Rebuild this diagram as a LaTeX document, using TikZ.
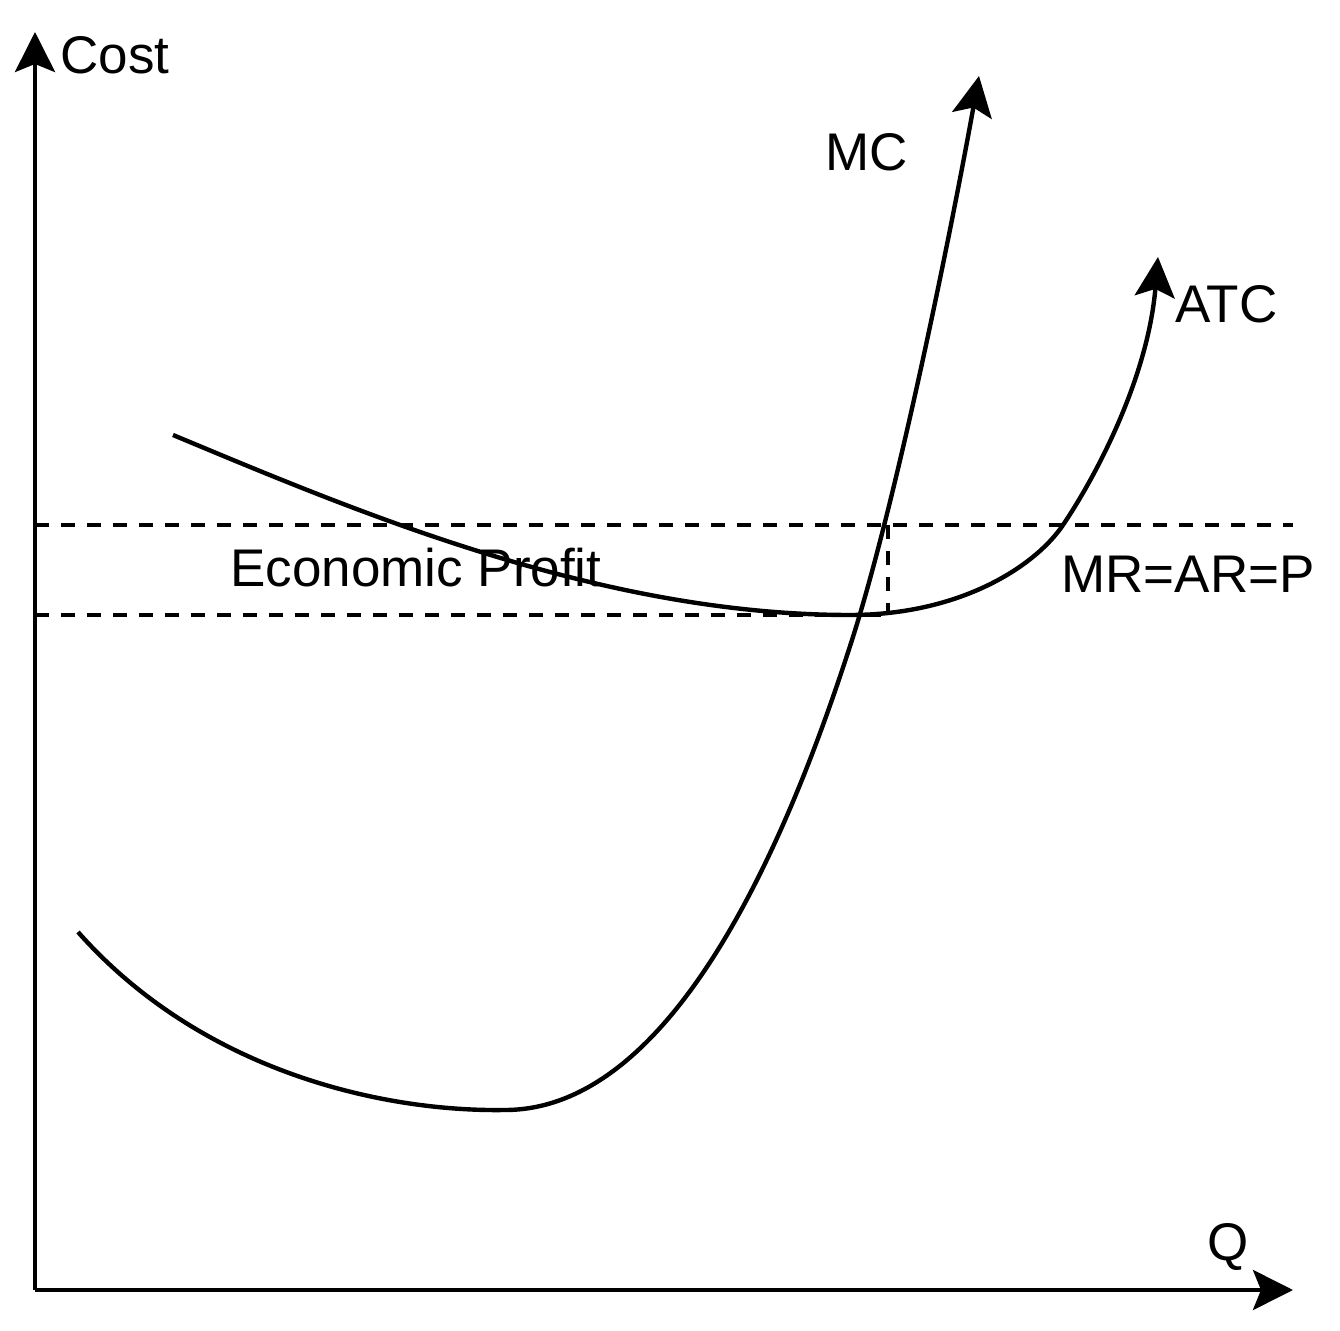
\documentclass[tikz,border=0pt]{standalone}
\usepackage{fontspec}
\setmainfont{Liberation Sans}
\usetikzlibrary{arrows.meta}
\begin{document}
\begin{tikzpicture}[x=0.5pt,y=-0.5pt,
  curve/.style={line width=2.2pt},
  arr/.style={-{Stealth[length=20pt,width=20pt,inset=4pt]}},
  dashline/.style={line width=2.2pt, dash pattern=on 7pt off 6pt},
  lbl/.style={anchor=base west, inner sep=0pt, font=\fontsize{26.5}{32}\selectfont}]
\useasboundingbox (0,0) rectangle (1340,1331);
% axes
\coordinate (O) at (35,1290);
\coordinate (ytip) at (35,32);
\coordinate (xtip) at (1293,1290);
\draw[curve,arr] (O) -- (ytip);
\draw[curve,arr] (O) -- (xtip);
% dashed lines
\coordinate (pL) at (35,525);
\coordinate (pR) at (1293,525);
\coordinate (cL) at (35,615);
\coordinate (qb) at (888,615);
\coordinate (qt) at (888,525);
\draw[dashline] (pL) -- (pR);
\draw[dashline] (cL) -- (qb);
\draw[dashline] (qt) -- (qb);
% MC curve
\coordinate (mc0) at (78,932);
\coordinate (mc1) at (505,1110);
\coordinate (mc2) at (852,640);
\coordinate (mc3) at (979,76);
\draw[curve,arr] (mc0) .. controls (200,1070) and (380,1112) .. (mc1)
  .. controls (685,1110) and (800,802) .. (mc2)
  .. controls (897.6,497) and (952.5,223.6) .. (mc3);
% ATC curve
\coordinate (atc0) at (173,435);
\coordinate (atc1) at (850,615);
\coordinate (atc2) at (1063,525);
\coordinate (atc3) at (1158,257);
\draw[curve,arr] (atc0) .. controls (357.6,512) and (600,615) .. (atc1)
  .. controls (960,615) and (1035,566.5) .. (atc2)
  .. controls (1097,474.6) and (1148,377) .. (atc3);
% labels
\node[lbl] (cost) at (60,74) {Cost};
\node[lbl] (q) at (1207,1260) {Q};
\node[lbl] (mc) at (825,171) {MC};
\node[lbl] (atc) at (1175,323) {ATC};
\node[lbl] (ep) at (230,587) {Economic Profit};
\node[lbl] (mr) at (1061,593) {MR=AR=P};
\end{tikzpicture}
\end{document}
